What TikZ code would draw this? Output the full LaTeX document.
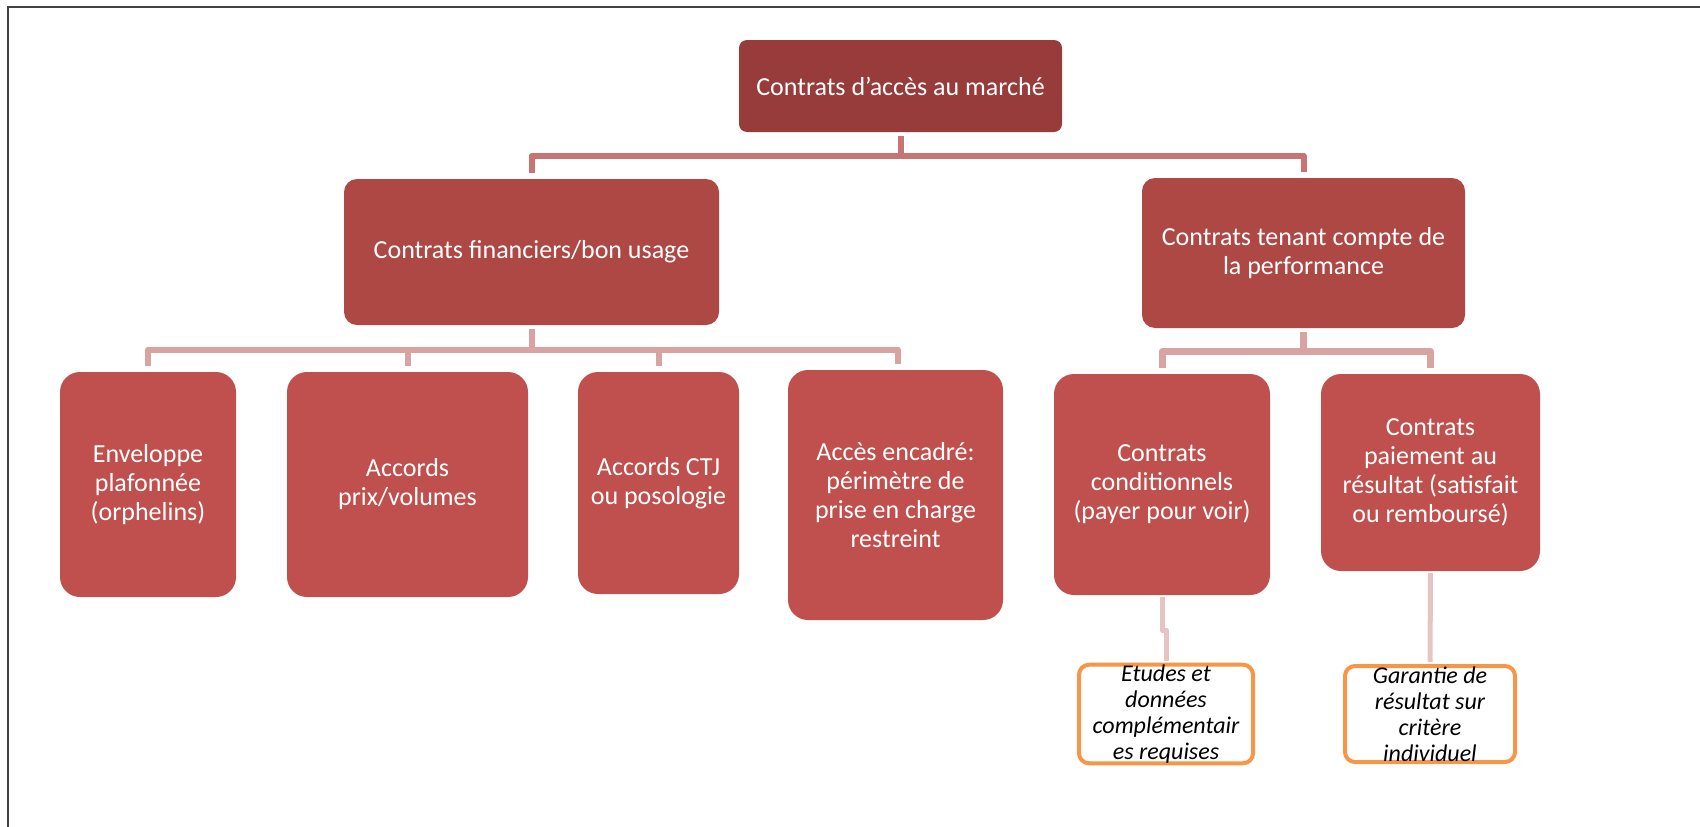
\documentclass[tikz,border=0pt]{standalone}
\usepackage{fontspec}
\setmainfont{Carlito}
\definecolor{rootc}{HTML}{983B3B}
\definecolor{levone}{HTML}{AE4845}
\definecolor{levtwo}{HTML}{C0504D}
\definecolor{connone}{HTML}{C87472}
\definecolor{conntwo}{HTML}{D9A3A1}
\definecolor{connthree}{HTML}{E6C4C3}
\definecolor{orangec}{HTML}{F79646}
\definecolor{framec}{HTML}{404040}
\begin{document}
\begin{tikzpicture}[x=1pt,y=-1pt,
  redbox/.style={rectangle, inner sep=0pt, align=center, text=white,
    font=\fontsize{26}{29}\selectfont},
  rootbox/.style={redbox, fill=rootc, rounded corners=8pt},
  onebox/.style={redbox, fill=levone, rounded corners=13pt},
  twobox/.style={redbox, fill=levtwo, rounded corners=20pt},
  notebox/.style={rectangle, inner sep=0pt, align=center, draw=orangec,
    line width=4pt, fill=white, rounded corners=10pt, text=black,
    font=\itshape\fontsize{24}{26}\selectfont},
  connA/.style={draw=connone, line width=6pt, line join=round, shorten <=4pt, shorten >=6pt},
  connB/.style={draw=conntwo, line width=6pt, line join=round, shorten <=4pt, shorten >=6pt},
  connC/.style={draw=conntwo, line width=7pt, line join=round, shorten <=4pt, shorten >=6pt},
  connD/.style={draw=connthree, line width=5pt, line join=round, shorten <=2pt},
  framel/.style={draw=framec, line width=2pt}
]
\useasboundingbox (0,0) rectangle (1700,827);
% frame
\coordinate (ftr) at (1700,7);
\coordinate (ftl) at (8,7);
\coordinate (fbl) at (8,827);
\draw[framel] (ftr) -- (ftl) -- (fbl);

% nodes
\node[rootbox, minimum width=323pt, minimum height=92pt] (root) at (900.5,86) {Contrats d’accès au marché};
\node[onebox, minimum width=375pt, minimum height=146pt] (fin) at (531.5,252) {Contrats financiers/bon usage};
\node[onebox, minimum width=323pt, minimum height=150pt] (perf) at (1303.5,253) {Contrats tenant compte de\\la performance};

\node[twobox, minimum width=176pt, minimum height=225pt] (env) at (148,484.5) {Enveloppe\\plafonnée\\(orphelins)};
\node[twobox, minimum width=241pt, minimum height=225pt] (acc) at (407.5,484.5) {Accords\\prix/volumes};
\node[twobox, minimum width=161pt, minimum height=222pt] (ctj) at (658.5,483) {Accords CTJ\\ou posologie};
\node[twobox, minimum width=215pt, minimum height=250pt] (acces) at (895.5,495) {Accès encadré:\\périmètre de\\prise en charge\\restreint};
\node[twobox, minimum width=216pt, minimum height=221pt] (cond) at (1162,484.5) {Contrats\\conditionnels\\(payer pour voir)};
\node[twobox, minimum width=219pt, minimum height=197pt] (pai) at (1430.5,472.5) {Contrats\\paiement au\\résultat (satisfait\\ou remboursé)};

\node[notebox, minimum width=174pt, minimum height=96pt] (note1) at (1166,714) {Etudes et\\données\\complémentair\\es requises};
\node[notebox, minimum width=170pt, minimum height=96pt] (note2) at (1430,714) {Garantie de\\résultat sur\\critère\\individuel};

% bus coordinates
\coordinate (busA) at (900,156);
\coordinate (busB) at (531,349.5);
\coordinate (busC) at (1303,351.5);

% connectors level 1
\draw[connA] (root.south) -- (root.south |- busA) -| (fin.north);
\draw[connA] (root.south) -- (root.south |- busA) -| (perf.north);

% connectors level 2 (financial)
\draw[connB] (fin.south) -- (fin.south |- busB) -| (env.north);
\draw[connB] (fin.south) -- (fin.south |- busB) -| (acc.north);
\draw[connB] (fin.south) -- (fin.south |- busB) -| (ctj.north);
\draw[connB] (fin.south) -- (fin.south |- busB) -| ([xshift=2.5pt]acces.north);

% connectors level 2 (performance)
\draw[connC] (perf.south) -- (perf.south |- busC) -| (cond.north);
\draw[connC] (perf.south) -- (perf.south |- busC) -| (pai.north);

% connectors level 3
\draw[connD, shorten >=2pt] (cond.south) -- ++(0,35) -| (note1.north);
\draw[connD, shorten >=2pt] (pai.south) -- (note2.north);
\end{tikzpicture}
\end{document}
